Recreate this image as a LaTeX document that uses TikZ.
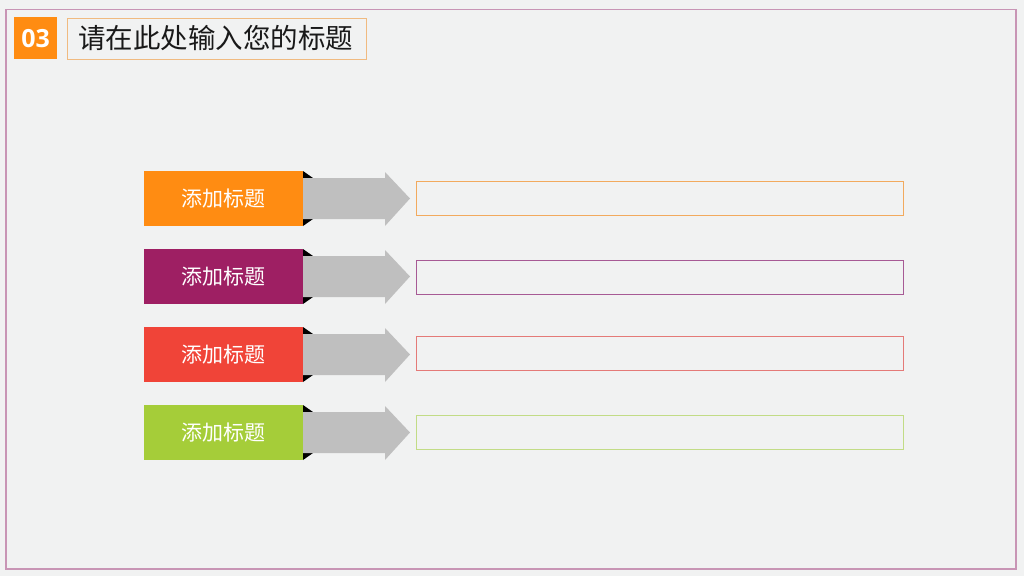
\documentclass[tikz,border=0pt]{standalone}
\usepackage{fontspec}
\newfontfamily\cjk{Noto Sans CJK SC}
\newfontfamily\numfont{Open Sans}
\definecolor{bgc}{HTML}{F1F2F2}
\definecolor{framec}{HTML}{C895B5}
\definecolor{c1}{HTML}{FF8C12}
\definecolor{c2}{HTML}{9E1F63}
\definecolor{c3}{HTML}{F04438}
\definecolor{c4}{HTML}{A5CD39}
\definecolor{b1}{HTML}{F2AA5E}
\definecolor{b2}{HTML}{A75A95}
\definecolor{b3}{HTML}{E47A78}
\definecolor{b4}{HTML}{C2DC86}
\definecolor{arrowc}{HTML}{BFBFBF}
\definecolor{titleb}{HTML}{F0BA80}
\begin{document}
\begin{tikzpicture}[x=1pt,y=-1pt,
  label/.style={inner sep=0pt,text=white,font=\cjk\fontsize{21}{21}\selectfont},
  rowrect/.style={minimum width=159pt,minimum height=55pt,inner sep=0pt,draw=none},
  textbox/.style={minimum width=487pt,minimum height=34pt,inner sep=0pt,line width=1pt,fill=none}]
\useasboundingbox (0,0) rectangle (1024,576);
\fill[bgc] (0,0) rectangle (1024,576);
\draw[framec,line width=1.5pt] (6,9.5) rectangle (1016,569);
% title
\node[fill=c1,minimum width=43pt,minimum height=42pt,inner sep=0pt,anchor=north west] (num) at (14,17) {};
\node[text=white,font=\numfont\bfseries\fontsize{25}{25}\selectfont,inner sep=0pt] (numt) at (num.center) {03};
\node[draw=titleb,line width=0.9pt,minimum width=299pt,minimum height=41pt,inner sep=0pt,anchor=north west] (tbox) at (67,17.5) {};
\node[font=\cjk\fontsize{27.5}{27.5}\selectfont,text=black!90,inner sep=0pt,anchor=west] (ttext) at (78,38) {请在此处输入您的标题};
% rows
\foreach \i/\c/\b/\yy/\by in {1/c1/b1/171/198,2/c2/b2/249/277.5,3/c3/b3/327/353.5,4/c4/b4/405/432}{
  \node[rowrect,fill=\c,anchor=north west] (r\i) at (144,\yy) {};
  \node[label] (l\i) at (r\i.center) {添加标题};
  \fill[black] (303,\yy) -- (313,\yy+7) -- (303,\yy+7) -- cycle;
  \fill[black] (303,\yy+48) -- (313,\yy+48) -- (303,\yy+55) -- cycle;
  \fill[arrowc] (303,\yy+7) -- (385,\yy+7) -- (385,\yy+1) -- (410,\yy+27.5) -- (385,\yy+55) -- (385,\yy+48) -- (303,\yy+48) -- cycle;
  \node[textbox,draw=\b] (t\i) at (659.5,\by) {};
}
\end{tikzpicture}
\end{document}
